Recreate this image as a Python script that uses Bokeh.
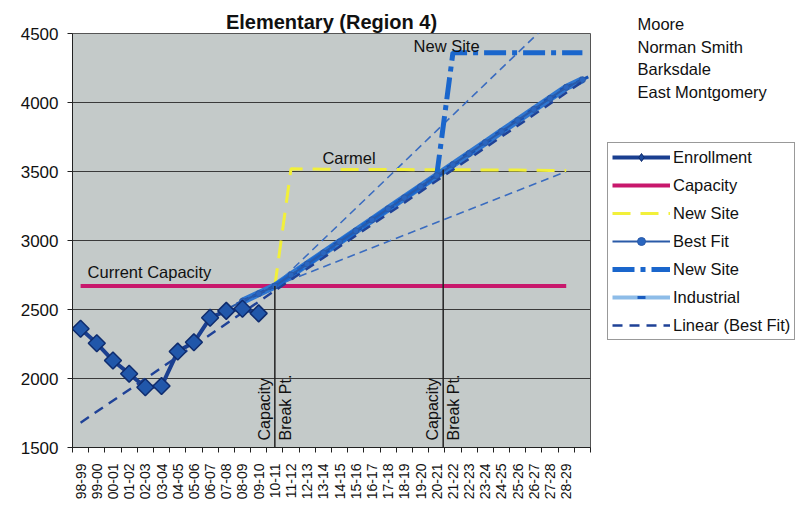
import math
from bokeh.plotting import figure
from bokeh.layouts import row
from bokeh.models import FixedTicker, Legend, LegendItem, Label, Range1d
from bokeh.embed import file_html
from bokeh.resources import INLINE

FONT = "Liberation Sans"

years = ["98-99", "99-00", "00-01", "01-02", "02-03", "03-04", "04-05", "05-06",
         "06-07", "07-08", "08-09", "09-10", "10-11", "11-12", "12-13", "13-14",
         "14-15", "15-16", "16-17", "17-18", "18-19", "19-20", "20-21", "21-22",
         "22-23", "23-24", "24-25", "25-26", "26-27", "27-28", "28-29"]
y_ticks = [1500, 2000, 2500, 3000, 3500, 4000, 4500]

enroll_x = [0, 1, 2, 3, 4, 5, 6, 7, 8, 9, 10, 11]
enrollment = [2360, 2255, 2130, 2035, 1937, 1945, 2195, 2262, 2440, 2490, 2505, 2472]

cap_x = list(range(0, 31))
capacity = [2670, 2670, 2670, 2670, 2670, 2670, 2670, 2670, 2670, 2670, 2670,
            2670, 2670, 2670, 2670, 2670, 2670, 2670, 2670, 2670, 2670, 2670,
            2670, 2670, 2670, 2670, 2670, 2670, 2670, 2670, 2670]

carmel_x = list(range(12, 31))
carmel = [2670, 3520, 3518, 3516, 3515, 3515, 3515, 3514, 3514, 3513, 3513,
          3512, 3512, 3511, 3510, 3510, 3509, 3508, 3507]

bestfit_x = list(range(8, 32))
bestfit = [2440, 2500, 2560, 2615, 2670, 2750, 2830, 2910, 2990, 3070, 3150, 3230,
           3310, 3390, 3470, 3550, 3630, 3710, 3790, 3870, 3950, 4030, 4110, 4165]

industrial_x = list(range(10, 32))
industrial = [2560, 2615, 2670, 2750, 2830, 2910, 2990, 3070, 3150, 3230, 3310,
              3390, 3470, 3550, 3630, 3710, 3790, 3870, 3950, 4030, 4110, 4165]

newsite_x = list(range(12, 32))
newsite = [2670, 2750, 2830, 2910, 2990, 3070, 3150, 3230, 3310, 3390, 3470,
           4360, 4360, 4360, 4360, 4360, 4360, 4360, 4360, 4360]

linear_x = [0, 31]
linear = [1680, 4150]

upper_x = [12, 31]
upper = [2670, 4810]
lower_x = [12, 30]
lower = [2670, 3500]

break_x = [12, 22.4]
break_bottom = [1500, 1500]
break_top = [2670, 3515]

schools = ["Moore", "Norman Smith", "Barksdale", "East Montgomery"]

# ---------------- styles ----------------
S_BAND = dict(line_color="#3a6cc0", line_width=1.6, line_dash="8 5")
S_CAP = dict(line_color="#c8186c", line_width=4)
S_YEL = dict(line_color="#f2f03a", line_width=3, line_dash="18 10")
S_IND = dict(line_color="#2f76d0", line_width=7)
S_IND_M = dict(marker="dash", size=13, line_color="#1450b4", line_width=3)
S_NS = dict(line_color="#1a66cc", line_width=5, line_dash="22 6 5 6")
S_BF = dict(line_color="#2a5aa8", line_width=2)
S_BF_M = dict(marker="circle", size=6, fill_color="#2a66c0", line_color="#2a5aa8")
S_LIN = dict(line_color="#1f4297", line_width=2.4, line_dash="10 7")
S_EN = dict(line_color="#1a3f90", line_width=4)
S_EN_M = dict(marker="square", size=12, angle=math.pi / 4, fill_color="#2157aa",
              line_color="#0f2c6e", line_width=1.5)

# ---------------- main chart ----------------
p = figure(width=600, height=511, x_range=(-0.5, 31.5), y_range=(1500, 4500),
           output_backend="svg", toolbar_location=None,
           min_border_left=72, min_border_right=10, min_border_top=33,
           min_border_bottom=64)
p.title.text = "Elementary (Region 4)"
p.title.align = "center"
p.title.offset = -6
p.title.standoff = 1
p.title.text_font = FONT
p.title.text_font_size = "20px"
p.title.text_font_style = "bold"
p.title.text_color = "#111111"

p.background_fill_color = "#c4cac9"
p.border_fill_color = "white"
p.outline_line_color = "#555555"
p.outline_line_width = 1

p.xgrid.grid_line_color = None
p.ygrid.grid_line_color = "#3a3a3a"
p.ygrid.grid_line_width = 1

p.xaxis.ticker = FixedTicker(ticks=list(range(31)),
                             minor_ticks=[i - 0.5 for i in range(33)])
p.xaxis.major_label_overrides = {i: years[i] for i in range(31)}
p.xaxis.major_label_orientation = math.pi / 2
p.xaxis.major_tick_out = 0
p.xaxis.major_tick_in = 0
p.xaxis.minor_tick_out = 5
p.xaxis.minor_tick_in = 0
p.xaxis.minor_tick_line_color = "#222222"
p.xaxis.major_label_standoff = 11
p.xaxis.major_label_text_font = FONT
p.xaxis.major_label_text_font_size = "14px"
p.xaxis.major_label_text_color = "#111111"
p.xaxis.axis_line_color = "#222222"

p.yaxis.ticker = FixedTicker(ticks=y_ticks)
p.yaxis.major_tick_out = 5
p.yaxis.major_tick_in = 0
p.yaxis.minor_tick_out = 0
p.yaxis.minor_tick_in = 0
p.yaxis.major_label_standoff = 9
p.yaxis.major_label_text_font = FONT
p.yaxis.major_label_text_font_size = "17px"
p.yaxis.major_label_text_color = "#111111"
p.yaxis.axis_line_color = "#222222"
p.yaxis.major_tick_line_color = "#222222"

p.line(upper_x, upper, **S_BAND)
p.line(lower_x, lower, **S_BAND)
p.line(cap_x, capacity, **S_CAP)
p.line(carmel_x, carmel, **S_YEL)
p.line(industrial_x, industrial, **S_IND)
p.scatter(industrial_x, industrial, angle=0.45, **S_IND_M)
p.line(newsite_x, newsite, **S_NS)
p.line(bestfit_x, bestfit, **S_BF)
p.scatter(bestfit_x, bestfit, **S_BF_M)
p.line(linear_x, linear, **S_LIN)
p.line(enroll_x, enrollment, **S_EN)
p.scatter(enroll_x, enrollment, **S_EN_M)

p.segment(x0=break_x, y0=break_bottom, x1=break_x, y1=break_top,
          line_color="#222222", line_width=1.5)


def lab(fig, text, x, y, size="17px", align="left", baseline="middle", angle=0.0, xo=0):
    fig.add_layout(Label(x=x, y=y, text=text, text_font=FONT,
                         text_font_size=size, text_align=align, text_baseline=baseline,
                         text_color="#111111", angle=angle, x_offset=xo))


for bx in break_x:
    lab(p, "Capacity", bx, 1551, size="16px", baseline="bottom", angle=math.pi / 2, xo=-2)
    lab(p, "Break Pt.", bx, 1551, size="16px", baseline="top", angle=math.pi / 2, xo=2)

lab(p, "Current Capacity", 0.43, 2775, size="16.5px")
lab(p, "Carmel", 14.94, 3601, size="16.5px")
lab(p, "New Site", 20.57, 4413, size="16.5px")

# ---------------- side panel: school names + legend ----------------
# (its frame is aligned with the main frame: page y 33..447, page x 600..797)
q = figure(width=197, height=511, x_range=Range1d(0, 197), y_range=Range1d(447, 33),
           output_backend="svg", toolbar_location=None,
           x_axis_location=None, y_axis_location=None,
           min_border_left=0, min_border_right=0, min_border_top=33, min_border_bottom=64)
q.title.text = schools[0]
q.title.align = "left"
q.title.offset = 37
q.title.standoff = 2
q.title.text_font = FONT
q.title.text_font_size = "16.5px"
q.title.text_font_style = "normal"
q.title.text_color = "#111111"
q.grid.visible = False
q.outline_line_color = None
q.background_fill_color = "white"
q.border_fill_color = "white"

for t, yy in zip(schools[1:], [46, 68, 91]):
    lab(q, t, 37, yy, size="16.5px")

hx = [-60, -50]
hy = [-60, -50]
en_l = q.line(hx, hy, **S_EN)
en_m = q.scatter(hx, hy, marker="diamond", size=15, fill_color="#1d4a9c",
                 line_color="#0f2c6e", line_width=1)
cap_l = q.line(hx, hy, **S_CAP)
yel_l = q.line(hx, hy, **S_YEL)
bf_l = q.line(hx, hy, **S_BF)
bf_m = q.scatter(hx, hy, **S_BF_M)
ns_l = q.line(hx, hy, **S_NS)
ind_l = q.line(hx, hy, line_color="#8dbce8", line_width=4)
ind_m = q.scatter(hx, hy, marker="dash", size=16, line_color="#1a5cc0", line_width=3)
lin_l = q.line(hx, hy, **S_LIN)

legend = Legend(items=[
    LegendItem(label="Enrollment", renderers=[en_l, en_m]),
    LegendItem(label="Capacity", renderers=[cap_l]),
    LegendItem(label="New Site", renderers=[yel_l]),
    LegendItem(label="Best Fit", renderers=[bf_l, bf_m]),
    LegendItem(label="New Site", renderers=[ns_l]),
    LegendItem(label="Industrial", renderers=[ind_l, ind_m]),
    LegendItem(label="Linear (Best Fit)", renderers=[lin_l]),
], location=(7, 107))
legend.border_line_color = "#333333"
legend.border_line_width = 1
legend.background_fill_color = "white"
legend.background_fill_alpha = 1
legend.label_text_font = FONT
legend.label_text_font_size = "16.5px"
legend.label_text_color = "#111111"
legend.glyph_width = 58
legend.glyph_height = 20
legend.label_height = 20
legend.spacing = 8
legend.padding = 4
legend.label_standoff = 3
legend.margin = 0
q.add_layout(legend)

layout = row(p, q)
open("out.html", "w").write(file_html(layout, INLINE))
